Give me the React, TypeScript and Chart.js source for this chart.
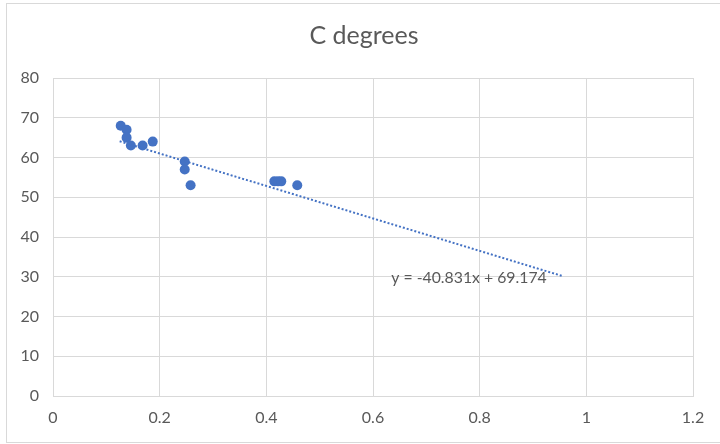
import React, { useEffect, useRef } from "react";
import { Chart, registerables } from "chart.js";

Chart.register(...registerables);

const TITLE = "C degrees";
const X_VALUES = [0.127, 0.138, 0.138, 0.146, 0.168, 0.187, 0.247, 0.247, 0.258, 0.415, 0.422, 0.428, 0.458];
const Y_VALUES = [68, 67, 65, 63, 63, 64, 59, 57, 53, 54, 54, 54, 53];
const SLOPE = -40.831;
const INTERCEPT = 69.174;
const TREND_RANGE = [0.125, 0.957];
const EQUATION = "y = -40.831x + 69.174";
const EQUATION_AT = { x: 0.78, y: 29.8 };

const BLUE = "#4472C4";
const TEXT = "#595959";
const GRID = "#d9d9d9";
const FONT = "Lato, 'Open Sans', sans-serif";

export default function App() {
  const ref = useRef<HTMLCanvasElement | null>(null);

  useEffect(() => {
    document.body.style.margin = "0";
    const canvas = ref.current;
    if (!canvas) return;

    const points = X_VALUES.map((x, i) => ({ x, y: Y_VALUES[i] }));
    const trend = TREND_RANGE.map((x) => ({ x, y: SLOPE * x + INTERCEPT }));

    const frame = {
      id: "frame",
      beforeDraw(chart: any) {
        const ctx = chart.ctx;
        ctx.save();
        ctx.fillStyle = "#ffffff";
        ctx.fillRect(0, 0, chart.width, chart.height);
        ctx.strokeStyle = GRID;
        ctx.lineWidth = 1;
        ctx.strokeRect(6.5, 3.5, chart.width, chart.height - 5);
        ctx.fillStyle = TEXT;
        ctx.font = `25px ${FONT}`;
        ctx.textAlign = "center";
        ctx.textBaseline = "middle";
        ctx.fillText(TITLE, 364, 36);
        ctx.restore();
      },
      afterDatasetsDraw(chart: any) {
        const ctx = chart.ctx;
        const xs = chart.scales.x;
        const ys = chart.scales.y;
        ctx.save();
        ctx.font = `15.8px ${FONT}`;
        ctx.fillStyle = TEXT;
        ctx.textAlign = "center";
        ctx.textBaseline = "middle";
        ctx.fillText(EQUATION, xs.getPixelForValue(EQUATION_AT.x), ys.getPixelForValue(EQUATION_AT.y));
        ctx.restore();
      },
    };

    const chart = new Chart(canvas, {
      type: "scatter",
      data: {
        datasets: [
          {
            type: "line",
            data: trend,
            borderColor: BLUE,
            borderWidth: 2,
            borderDash: [2, 2],
            pointRadius: 0,
            fill: false,
          } as any,
          {
            data: points,
            backgroundColor: BLUE,
            borderColor: BLUE,
            pointRadius: 5,
            pointBorderWidth: 0,
          },
        ],
      },
      options: {
        animation: false,
        responsive: false,
        layout: { padding: { left: 0, right: 27, top: 78, bottom: 0 } },
        plugins: {
          legend: { display: false },
          tooltip: { enabled: false },
          title: { display: false },
        },
        scales: {
          x: {
            type: "linear",
            min: 0,
            max: 1.2,
            ticks: {
              stepSize: 0.2,
              color: TEXT,
              padding: 12,
              font: { family: FONT, size: 16 },
              callback: (v: any) => String(Number(Number(v).toFixed(1))),
            },
            grid: { color: GRID, drawTicks: false, tickLength: 0 },
            border: { color: GRID },
            afterFit: (s: any) => {
              s.height = 48;
            },
          },
          y: {
            type: "linear",
            min: 0,
            max: 80,
            ticks: {
              stepSize: 10,
              color: TEXT,
              padding: 14,
              font: { family: FONT, size: 16 },
            },
            grid: { color: GRID, drawTicks: false, tickLength: 0 },
            border: { color: GRID },
            afterFit: (s: any) => {
              s.width = 53;
            },
          },
        },
      },
      plugins: [frame],
    });

    return () => chart.destroy();
  }, []);

  return (
    <div style={{ width: 720, height: 444 }}>
      <canvas ref={ref} width={720} height={444} style={{ display: "block" }} />
    </div>
  );
}
